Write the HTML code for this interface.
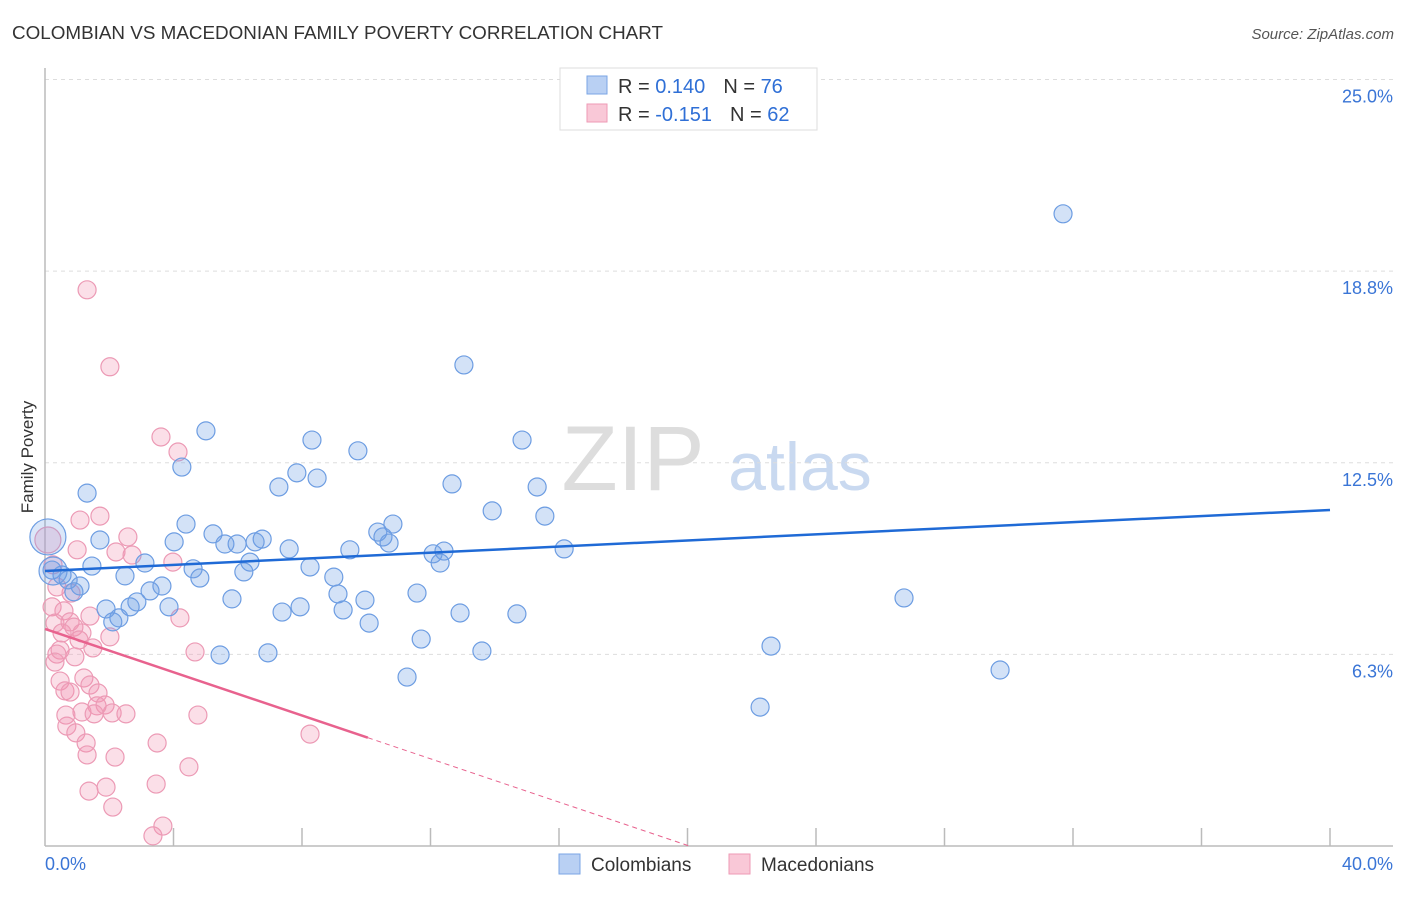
<!DOCTYPE html>
<html><head><meta charset="utf-8"><style>
body{margin:0;background:#fff;font-family:"Liberation Sans",sans-serif;}
svg text{font-family:"Liberation Sans",sans-serif;}
</style></head><body>
<svg id="chart" width="1406" height="892" xmlns="http://www.w3.org/2000/svg">
<text x="12" y="39" font-size="18" fill="#333" textLength="651" lengthAdjust="spacingAndGlyphs">COLOMBIAN VS MACEDONIAN FAMILY POVERTY CORRELATION CHART</text>
<text x="1394" y="39" font-size="15" fill="#555" font-style="italic" text-anchor="end">Source: ZipAtlas.com</text>
<text x="33" y="457" font-size="17" fill="#333" text-anchor="middle" transform="rotate(-90 33 457)">Family Poverty</text>
<g><text x="633" y="490" font-size="92" fill="#ddd" font-family="Liberation Serif" text-anchor="middle">ZIP</text><text x="800" y="490" font-size="68" fill="#c9d9f0" text-anchor="middle">atlas</text></g>
<g id="grid"></g><g id="axes"></g><g id="pts"></g><g id="lines"></g>
<g>
<rect x="560" y="68" width="257" height="62" fill="#fff" stroke="#ddd"/>
<rect x="587" y="76" width="20" height="18" fill="#b9d0f3" stroke="#7aa5e5"/>
<rect x="587" y="104" width="20" height="18" fill="#f9c8d7" stroke="#ee9ab5"/>
<text x="618" y="93" font-size="20" fill="#333">R = <tspan fill="#2f6fd6"> 0.140</tspan><tspan dx="18">N = </tspan><tspan fill="#2f6fd6">76</tspan></text>
<text x="618" y="121" font-size="20" fill="#333">R = <tspan fill="#2f6fd6">-0.151</tspan><tspan dx="18">N = </tspan><tspan fill="#2f6fd6">62</tspan></text>
</g>
<g>
<rect x="559" y="854" width="21" height="20" fill="#b9d0f3" stroke="#7aa5e5"/>
<text x="591" y="871" font-size="19" fill="#333">Colombians</text>
<rect x="729" y="854" width="21" height="20" fill="#f9c8d7" stroke="#ee9ab5"/>
<text x="761" y="871" font-size="19" fill="#333">Macedonians</text>
</g>
</svg>
<script>
const yTicks=[6.25,12.5,18.75,25];
const yTickLabels=["6.3%","12.5%","18.8%","25.0%"];
const xTickLabels=["0.0%","40.0%"];
const blueX=[31.69,13.04,5.01,8.31,14.85,9.74,4.26,7.84,8.47,7.28,12.67,15.32,1.31,13.92,15.56,4.39,10.83,10.36,5.23,1.71,4.02,6.76,5.60,5.98,6.54,10.52,10.71,7.60,9.49,16.16,12.08,12.42,12.30,6.38,3.11,1.46,4.61,8.25,6.19,0.22,0.53,0.72,2.49,4.82,8.99,1.09,3.64,3.27,0.90,9.12,11.58,26.74,5.82,9.96,2.86,2.65,3.86,1.90,7.94,7.38,9.28,12.92,14.69,2.30,2.11,10.09,11.71,22.60,13.60,5.45,6.94,29.73,11.27,22.26];
const blueY=[20.62,15.69,13.54,13.24,13.24,12.89,12.36,12.17,12.00,11.71,11.81,11.71,11.51,10.93,10.76,10.50,10.50,10.24,10.18,9.98,9.92,10.01,9.85,9.85,9.92,10.08,9.88,9.69,9.66,9.69,9.53,9.62,9.23,9.26,9.23,9.13,9.04,9.10,8.94,9.00,8.84,8.68,8.81,8.74,8.77,8.48,8.48,8.32,8.29,8.22,8.25,8.09,8.06,8.02,7.96,7.80,7.80,7.73,7.80,7.63,7.70,7.60,7.57,7.44,7.31,7.27,6.75,6.52,6.36,6.23,6.30,5.74,5.51,4.53];
const pinkX=[1.31,2.02,3.61,4.14,1.71,1.09,2.58,0.09,1.00,2.21,2.71,3.98,0.25,0.37,0.81,0.22,0.59,1.40,4.20,0.31,0.78,0.90,0.53,1.15,2.02,1.06,1.49,0.47,0.37,0.93,0.31,4.67,0.47,1.21,1.40,0.62,0.78,1.65,1.62,1.87,1.15,0.65,1.53,2.09,2.52,4.76,0.68,0.96,8.25,1.28,3.49,1.31,2.18,4.48,3.46,1.90,1.37,2.11,3.67,3.36];
const pinkY=[18.14,15.63,13.34,12.85,10.76,10.63,10.08,9.98,9.66,9.59,9.49,9.26,9.17,8.45,8.25,7.80,7.67,7.50,7.44,7.27,7.31,7.14,6.95,6.95,6.82,6.72,6.46,6.39,6.26,6.17,6.00,6.33,5.38,5.48,5.25,5.06,5.02,4.99,4.57,4.60,4.37,4.27,4.31,4.34,4.31,4.27,3.91,3.69,3.65,3.36,3.36,2.97,2.90,2.58,2.02,1.92,1.79,1.27,0.65,0.33];
const blueTrend=[8.97,10.96]; // y at x=0 and x=40
const pinkTrend=[7.08,-0.353]; // intercept, slope
const NS="http://www.w3.org/2000/svg";
const X=v=>45+v/40*1285, Y=v=>846-v*30.66;
function mk(t,a,p){const e=document.createElementNS(NS,t);for(const k in a)e.setAttribute(k,a[k]);document.getElementById(p).appendChild(e);return e;}
yTicks.forEach((t,i)=>{
 const g=mk('line',{x1:45,x2:1393,y1:Y(t),y2:Y(t),stroke:'#ddd','stroke-dasharray':'4,4'},'grid');
 
 
 const l=mk('text',{x:1393,y:Y(t)+23,'font-size':18,fill:'#3a75d6','text-anchor':'end'},'axes');
 l.textContent=yTickLabels[i];
 
 
});
let a=mk('line',{x1:45,x2:45,y1:68,y2:846,stroke:'#bbb','stroke-width':1.5},'axes');


a=mk('line',{x1:45,x2:1393,y1:846,y2:846,stroke:'#bbb','stroke-width':1.5},'axes');


for(let i=1;i<=10;i++){const t=mk('line',{x1:X(i*4),x2:X(i*4),y1:828,y2:846,stroke:'#bbb','stroke-width':1.5},'axes');
 
 }
[[0,'start',45],[40,'end',1393]].forEach((d,i)=>{const t=mk('text',{x:d[2],y:870,'font-size':18,fill:'#3a75d6','text-anchor':d[1]},'axes');t.textContent=xTickLabels[i];
 
 });
pinkX.forEach((x,i)=>{const c=mk('circle',{cx:X(x),cy:Y(pinkY[i]),r:i==7?13:9,fill:'rgba(242,150,180,0.3)',stroke:'#ec9ab5','stroke-width':1.2},'pts');
 
 });
blueX.forEach((x,i)=>{const c=mk('circle',{cx:X(x),cy:Y(blueY[i]),r:9,fill:'rgba(110,160,230,0.3)',stroke:'#6d9de2','stroke-width':1.2},'pts');
 
 });
let big=mk('circle',{cx:X(0.09),cy:Y(10.08),r:18,fill:'rgba(110,160,230,0.25)',stroke:'#6d9de2','stroke-width':1.2},'pts');


big=mk('circle',{cx:X(0.25),cy:Y(8.97),r:14,fill:'rgba(110,160,230,0.25)',stroke:'#6d9de2','stroke-width':1.2},'pts');


let l=mk('line',{x1:X(0),y1:Y(blueTrend[0]),x2:X(40),y2:Y(blueTrend[1]),stroke:'#1f6ad6','stroke-width':2.5},'lines');


const pEnd=10.05, pZero=-pinkTrend[0]/pinkTrend[1];
l=mk('line',{x1:X(0),y1:Y(pinkTrend[0]),x2:X(pEnd),y2:Y(pinkTrend[0]+pinkTrend[1]*pEnd),stroke:'#e8628e','stroke-width':2.5},'lines');


l=mk('line',{x1:X(pEnd),y1:Y(pinkTrend[0]+pinkTrend[1]*pEnd),x2:X(pZero),y2:Y(0),stroke:'#e8628e','stroke-width':1,'stroke-dasharray':'5,4'},'lines');


</script>
</body></html>
